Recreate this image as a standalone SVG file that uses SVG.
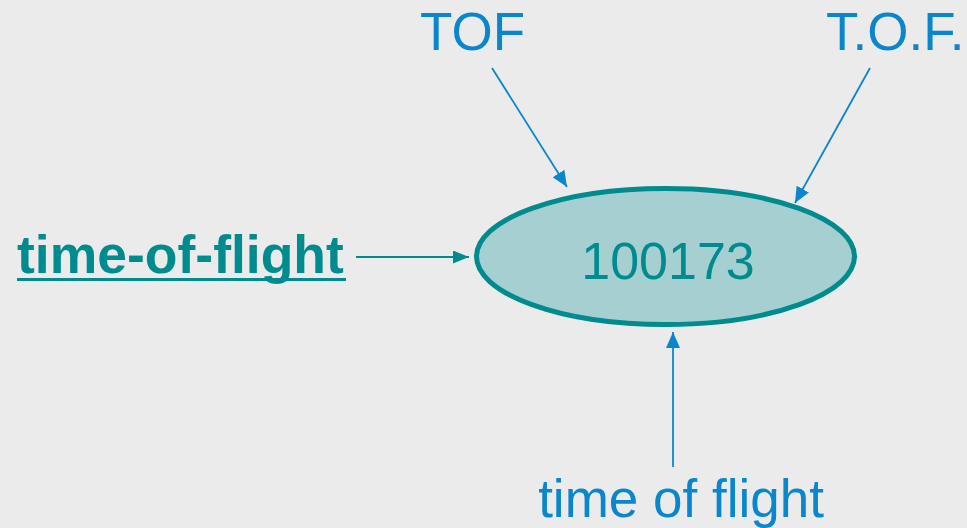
<svg xmlns="http://www.w3.org/2000/svg" width="967" height="528" viewBox="0 0 967 528">
  <style>
    .lbl { font-family: "Liberation Sans", Arial, sans-serif; fill: #0a87cc; font-size: 53px; }
    .blue { stroke: #0a87cc; stroke-width: 1.8; fill: none; }
    .teal { stroke: #008c8f; stroke-width: 1.8; fill: none; }
  </style>
  <defs>
    <marker id="ah-blue" markerUnits="userSpaceOnUse" viewBox="0 0 16 14" refX="16" refY="7" markerWidth="16" markerHeight="14" orient="auto">
      <path d="M0,0 L16,7 L0,14 z" fill="#0a87cc"/>
    </marker>
    <marker id="ah-teal" markerUnits="userSpaceOnUse" viewBox="0 0 16 13" refX="16" refY="6.5" markerWidth="16" markerHeight="13" orient="auto">
      <path d="M0,0 L16,6.5 L0,13 z" fill="#008c8f"/>
    </marker>
  </defs>
  <rect width="967" height="528" fill="#ebebeb"/>

  <g id="connectors">
    <line class="blue" x1="492" y1="68" x2="567" y2="187" marker-end="url(#ah-blue)"/>
    <line class="blue" x1="870" y1="68" x2="795" y2="203" marker-end="url(#ah-blue)"/>
    <line class="teal" x1="356" y1="257" x2="469" y2="257" marker-end="url(#ah-teal)"/>
    <line class="blue" x1="673" y1="467" x2="673" y2="332" marker-end="url(#ah-blue)"/>
  </g>

  <g id="concept">
    <ellipse cx="665.5" cy="256.5" rx="189" ry="68" fill="#a6cfd1" stroke="#008c8f" stroke-width="5"/>
    <text x="668" y="279" text-anchor="middle" font-family="'Liberation Sans', Arial, sans-serif" font-size="52" fill="#008c8f">100173</text>
  </g>

  <g id="term-tof">
    <text class="lbl" x="420" y="50">TOF</text>
  </g>

  <g id="term-t-o-f">
    <text class="lbl" x="826" y="50">T.O.F.</text>
  </g>

  <g id="term-preferred">
    <text x="17" y="273" font-family="'Liberation Sans', Arial, sans-serif" font-size="53.5" font-weight="bold" fill="#008c8f">time-of-flight</text>
    <rect x="17" y="278" width="329" height="3" fill="#008c8f"/>
  </g>

  <g id="term-time-of-flight">
    <text class="lbl" x="681" y="517" text-anchor="middle" font-size="53.5">time of flight</text>
  </g>
</svg>
